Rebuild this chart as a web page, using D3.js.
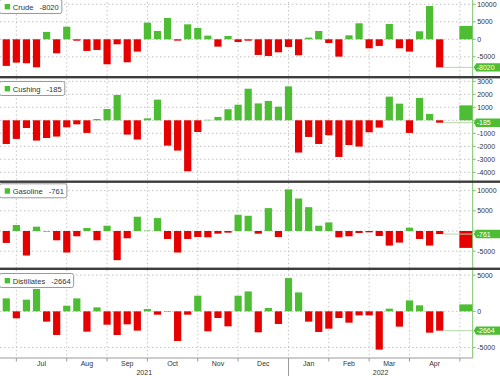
<!DOCTYPE html>
<html><head><meta charset="utf-8">
<script src="https://cdn.jsdelivr.net/npm/d3@7/dist/d3.min.js"></script>
<style>body{margin:0;background:#fff}svg{display:block;font-family:"Liberation Sans",Arial,sans-serif}</style>
</head><body><svg id="c" width="500" height="376"></svg>
<script>
// ---- data ----
const firstWeek = new Date(2021, 5, 18);   // week ending Fri Jun 18 2021 (partly off-chart)
const lastWeek = new Date(2022, 3, 22);    // week ending Fri Apr 22 2022
const monthLabels = ["Jul","Aug","Sep","Oct","Nov","Dec","Jan","Feb","Mar","Apr"];
const yearLabels = ["2021","2022"];
const names = ["Crude","Cushing","Gasoline","Distillates"];
const reported = [-8020, -185, -761, -2664];
const crude = [-3000,-7600,-6660,-6850,-8000,2100,-4000,3600,-400,-3330,-3050,-7140,-1430,-6570,-3520,4760,2380,6100,-380,4280,3240,1050,-2100,950,-760,-400,-4470,-4760,-3710,-2190,-4570,480,2380,-1050,-4950,1140,4570,-2570,-1900,4380,-2570,-3520,2280,9520,-8020];
const cushing = [-2050,-1820,-1430,-590,-1560,-1360,-1250,-540,-310,-970,100,870,1950,-1100,-1480,150,1590,-1950,-2330,-3920,-900,40,260,850,1200,2430,1300,1490,1050,2610,-2480,-1280,-1820,-1150,-2820,-1900,-2020,-920,-560,1820,1280,-970,1720,490,-185];
const gasoline = [1720,-2950,1480,-6070,1070,-100,-2300,-5330,-1310,740,-2300,1310,-7220,-1800,3530,100,3200,-1970,-5330,-1970,-1480,-1560,-660,-410,4020,3770,-660,5660,-1480,10300,8040,5900,1310,2130,-1560,-1310,-490,-330,-1230,-3610,-2870,820,-1970,-3610,-761];
const distillates = [-1100,1790,-960,1610,3080,-1420,-3260,780,1790,-2800,550,-1840,-3260,-1790,-2660,320,-460,-50,-4090,-460,2160,-2750,-920,-2070,2160,2750,-2890,460,-1740,4590,2610,-1420,-2840,-2390,-920,-1560,-550,-550,-5280,370,-2110,1510,830,-2940,-2664];
const sideBar = [3800, 1150, -4180, 960];
const tickSets = [
  [10000,5000,0,-5000],
  [3000,2000,1000,0,-1000,-2000,-3000,-4000],
  [10000,5000,0,-5000],
  [5000,0,-5000]
];
const series = [crude, cushing, gasoline, distillates];

// ---- layout ----
const W = 500, H = 376, AX = 472.7;
const GREEN = "#4dbd33", RED = "#e60000", AXG = "#7cc46a";
const panels = [
  {top:-2,   bottom:76,    dom:[-5000,10000], rng:[56.8,4.3],   leg:-0.5},
  {top:78.3, bottom:180.7, dom:[-4000,3000],  rng:[172.3,81.3], leg:81.5},
  {top:182.7,bottom:267.8, dom:[-5000,10000], rng:[251.2,190.6],leg:183.8},
  {top:269.8,bottom:358,   dom:[-5000,5000],  rng:[347.6,275.1],leg:273.5}
];

const svg = d3.select("#c");
const weeks = d3.timeFriday.range(firstWeek, d3.timeDay.offset(lastWeek,1));
const allWeeks = d3.timeFriday.range(firstWeek, new Date(2022,4,8));
const x = d3.scaleTime().domain([firstWeek, lastWeek]).range([-3.8, 439.7]);
const monthStarts = allWeeks.filter((d,i)=> i>0 && d.getMonth()!==allWeeks[i-1].getMonth());
const BW = 7.2;

panels.forEach((p, k) => {
  const y = d3.scaleLinear().domain(p.dom).range(p.rng);
  const g = svg.append("g");
  const ly = y(reported[k]);
  // horizontal grid
  g.selectAll(".hg").data(tickSets[k]).join("line")
    .attr("x1",0).attr("x2",AX).attr("y1",d=>y(d)).attr("y2",d=>y(d))
    .attr("stroke","#c4c4c4").attr("stroke-dasharray","1.5,2.5");
  // vertical grid
  g.selectAll(".vg").data(monthStarts).join("line")
    .attr("x1",d=>x(d)).attr("x2",d=>x(d)).attr("y1",p.top).attr("y2",p.bottom)
    .attr("stroke","#c4c4c4").attr("stroke-dasharray","1.5,2.5");
  // bars
  const vals = series[k];
  g.selectAll(".bar").data(weeks).join("rect")
    .attr("x",(d)=>x(d)-BW/2).attr("width",BW)
    .attr("y",(d,i)=>Math.min(y(0),y(vals[i])))
    .attr("height",(d,i)=>Math.abs(y(vals[i])-y(0)))
    .attr("fill",(d,i)=>vals[i]>=0?GREEN:RED);
  // side bar
  const sx = x(monthStarts[monthStarts.length-1]) - 0.5;
  g.append("rect").attr("x",sx).attr("width",AX-sx)
    .attr("y",Math.min(y(0),y(sideBar[k]))).attr("height",Math.abs(y(sideBar[k])-y(0)))
    .attr("fill",sideBar[k]>=0?GREEN:RED);
  // leader line
  g.append("line").attr("x1",x(lastWeek)+BW/2).attr("x2",AX)
    .attr("y1",ly).attr("y2",ly)
    .attr("stroke","#b6d9a8").attr("stroke-width",1);
  // right axis ticks
  g.selectAll(".tk").data(tickSets[k]).join("line")
    .attr("x1",AX).attr("x2",AX+3).attr("y1",d=>y(d)).attr("y2",d=>y(d)).attr("stroke",AXG);
  // tick labels (those hidden under the value label in the reference are left out)
  g.selectAll(".tl").data(tickSets[k].filter(t=>Math.abs(y(t)-ly)>8)).join("text")
    .attr("x",AX+4.5).attr("y",d=>y(d)).attr("dy","0.35em")
    .attr("font-size",7).attr("fill","#333").text(d=>d);
  // value label
  g.append("path")
    .attr("d",`M${AX+1},${ly} L${AX+3.5},${ly-4.2} L${W},${ly-4.2} L${W},${ly+4.2} L${AX+3.5},${ly+4.2} Z`)
    .attr("fill",GREEN);
  g.append("text").attr("x",AX+4).attr("y",ly).attr("dy","0.35em")
    .attr("font-size",7).attr("fill","#fff").text(reported[k]);
  // legend
  const lg = svg.append("g").attr("transform",`translate(0,${p.leg})`);
  const box = lg.append("rect").attr("x",-0.5).attr("y",0).attr("height",14).attr("rx",2)
    .attr("fill","#fff").attr("stroke","#9a9a9a");
  lg.append("rect").attr("x",4.7).attr("y",4.5).attr("width",5.4).attr("height",5.4).attr("fill",GREEN);
  const t1 = lg.append("text").attr("x",12.7).attr("y",10).attr("font-size",7.6).attr("fill","#333").text(names[k]);
  const w1 = t1.node().getComputedTextLength();
  const t2 = lg.append("text").attr("x",12.7+w1+6).attr("y",10).attr("font-size",7.6).attr("fill","#333").text(reported[k]);
  const w2 = t2.node().getComputedTextLength();
  box.attr("width",12.7+w1+6+w2+3.5);
});

// right axis line
svg.append("line").attr("x1",AX).attr("x2",AX).attr("y1",0).attr("y2",358).attr("stroke",AXG);
// separators
[77.2, 181.7, 268.8].forEach(yy=>{
  svg.append("rect").attr("x",0).attr("width",W).attr("y",yy-1.2).attr("height",2.4).attr("fill","#3d3d3d");
});
// bottom axis
svg.append("line").attr("x1",0).attr("x2",AX).attr("y1",358).attr("y2",358).attr("stroke","#9a9a9a");
svg.selectAll(".mt").data(monthStarts).join("line")
  .attr("x1",d=>x(d)).attr("x2",d=>x(d)).attr("y1",358).attr("y2",361.5).attr("stroke","#9a9a9a");
svg.selectAll(".ml").data(monthLabels).join("text")
  .attr("x",(d,i)=>(x(monthStarts[i])+x(monthStarts[i+1]))/2).attr("y",366)
  .attr("text-anchor","middle").attr("font-size",7).attr("fill","#333").text(d=>d);
const jan = monthStarts.find(d=>d.getFullYear()===2022);
svg.append("line").attr("x1",x(jan)).attr("x2",x(jan)).attr("y1",358).attr("y2",H).attr("stroke","#9a9a9a");
svg.selectAll(".yl").data(yearLabels).join("text")
  .attr("x",(d,i)=> i===0 ? x(jan)/2 : (x(jan)+AX)/2).attr("y",375)
  .attr("text-anchor","middle").attr("font-size",7).attr("fill","#333").text(d=>d);
</script></body></html>
